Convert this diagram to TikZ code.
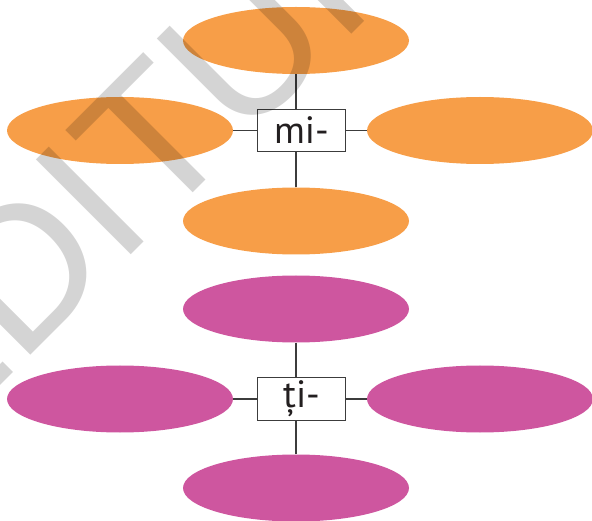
\documentclass[tikz,border=0pt]{standalone}
\usepackage{fontspec}
\setmainfont{PT Sans}
\newfontfamily\wmfont{Liberation Sans}
\usetikzlibrary{shapes.geometric}
\definecolor{orangefill}{HTML}{F79E48}
\definecolor{magentafill}{HTML}{CE569F}
\definecolor{linegray}{HTML}{3C3C3C}
\definecolor{textdark}{HTML}{231F20}
\tikzset{
  oval/.style={ellipse, inner sep=0pt, minimum width=226pt, minimum height=67pt},
  orangeoval/.style={oval, fill=orangefill},
  magentaoval/.style={oval, fill=magentafill},
  labelbox/.style={draw=linegray, line width=1.3pt, fill=white, minimum width=88.5pt, minimum height=42.5pt, inner sep=0pt, text=textdark, font=\fontsize{38}{40}\selectfont},
  link/.style={draw=linegray, line width=1.3pt},
  watermark/.style={text=black, text opacity=0.17, rotate=45, inner sep=0pt, font=\wmfont\fontsize{195}{200}\selectfont}
}
\begin{document}
\begin{tikzpicture}[x=1pt, y=-1pt]
\useasboundingbox (0,0) rectangle (592,521);
% orange group
\node[orangeoval] (ot) at (296,40.5) {};
\node[orangeoval] (ol) at (120,130.5) {};
\node[orangeoval] (or) at (480,130.5) {};
\node[orangeoval] (ob) at (296,221) {};
\node[labelbox] (b1) at (301.5,130.5) {mi-};
\draw[link] (ot.south) -- (ot.south |- b1.north);
\draw[link] (ob.north) -- (ob.north |- b1.south);
\draw[link] (ol.east) -- (b1.west);
\draw[link] (b1.east) -- (or.west);
% magenta group
\node[magentaoval] (mt) at (296,309) {};
\node[magentaoval] (ml) at (120,399) {};
\node[magentaoval] (mr) at (480,399) {};
\node[magentaoval] (mb) at (296,488) {};
\node[labelbox] (b2) at (301.5,399) {ți-};
\draw[link] (mt.south) -- (mt.south |- b2.north);
\draw[link] (mb.north) -- (mb.north |- b2.south);
\draw[link] (ml.east) -- (b2.west);
\draw[link] (b2.east) -- (mr.west);
% watermark
\node[watermark, anchor=base] (wm) at (138,248) {\llap{ED}I\rlap{TURA}};
\end{tikzpicture}
\end{document}
